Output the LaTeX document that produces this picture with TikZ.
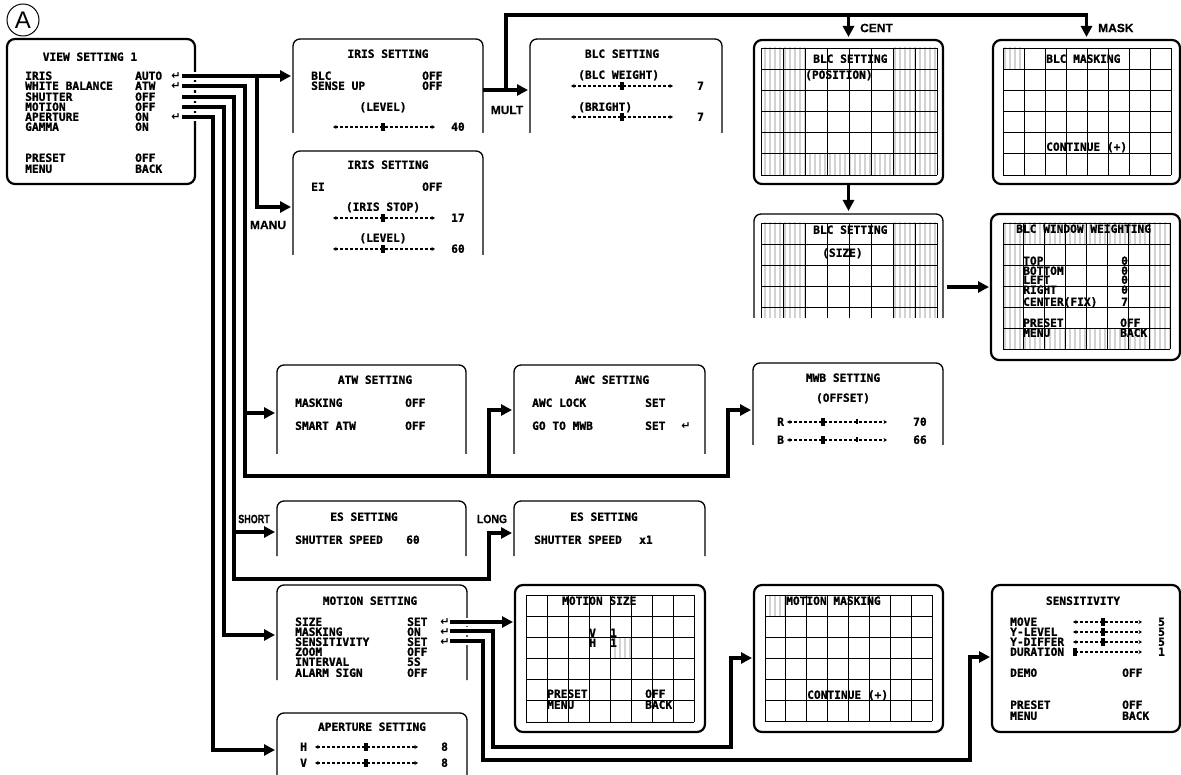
\documentclass[tikz,border=0pt]{standalone}
\usepackage{fontspec}
\usepackage{xcolor}
\usepackage{tikz}
\usetikzlibrary{arrows.meta,positioning,patterns.meta,calc}
\setmainfont{Liberation Sans}
\newfontfamily\osdfamily{DejaVu Sans Mono}[BoldFeatures={FakeBold=1.2}]
\newfontfamily\tagfamily{Liberation Sans}[BoldFeatures={FakeBold=0.4}]
\newfontfamily\symfamily{DejaVu Sans}
\definecolor{stripegray}{RGB}{210,210,210}

% slider: from, to, y, thumb
\newcommand{\osdslider}[4]{%
  \draw[sliderline] (#1,#3) -- (#2,#3);
  \fill (#4-2.2,#3-4) rectangle (#4+2.2,#3+4);}
% open screen outline (no bottom edge)
\newcommand{\openpanel}[1]{%
  \draw[panelline] (#1.south west) -- (#1.north west) -- (#1.north east) -- (#1.south east);}
% 8 x rows grid: x0, y0, cell width, cell height, rows
\newcommand{\osdgrid}[5]{%
  \foreach \i in {0,...,8} \draw[gridline] ({#1+\i*#3},#2) -- ++(0,{#5*#4});
  \foreach \j in {0,...,#5} \draw[gridline] (#1,{#2+\j*#4}) -- ++({8*#3},0);}

\begin{document}
\begin{tikzpicture}[x=1pt,y=-1pt,
    osd/.style={font=\fontsize{11.2}{12}\osdfamily\bfseries\selectfont,
                inner sep=0pt,text height=7.6pt,text depth=0pt},
    ent/.style={font=\fontsize{11}{11}\symfamily\bfseries\selectfont,inner sep=0pt},
    tag/.style={font=\fontsize{12}{12}\tagfamily\bfseries\selectfont,inner sep=0pt},
    panel/.style={inner sep=0pt,outer sep=0pt},
    panelline/.style={line width=1.3pt,rounded corners=7pt},
    screen/.style={draw,line width=2.2pt,rounded corners=8pt,inner sep=0pt,outer sep=0pt},
    gridline/.style={line width=0.9pt},
    stripes/.style={pattern={Lines[angle=90,distance=5pt,line width=2.4pt]},
                    pattern color=stripegray},
    link/.style={line width=3.8pt,-{Triangle[length=11pt,width=11pt]},shorten >=2pt,
                 preaction={draw=white,line width=8.5pt,-,shorten >=12pt}},
    branch/.style={line width=3.8pt,-{Triangle[length=11pt,width=11pt]},shorten >=2pt},
    sliderline/.style={line width=1.2pt,dash pattern=on 3.2pt off 1.8pt,
                       {Stealth[length=3.5pt,width=4pt]}-{Stealth[length=3.5pt,width=4pt]}}]
  \useasboundingbox (0,0) rectangle (1181,775);

  % main menu
  \node[draw,circle,line width=1pt,minimum size=32pt,inner sep=0pt,
        font=\fontsize{24}{24}\selectfont] (markA) at (23,20) {A};
  \node[screen,minimum width=188,minimum height=145] (view) at (101,111.5) {};
  \node[osd] (viewT) at (90,57) {VIEW SETTING 1};
  \foreach \lab/\val/\yy [count=\k] in {IRIS/AUTO/76,WHITE BALANCE/ATW/86,
      SHUTTER/OFF/97,MOTION/OFF/107,APERTURE/ON/117,GAMMA/ON/127,
      PRESET/OFF/158,MENU/BACK/169}{
    \node[osd,anchor=west] (viewL\k) at (25,\yy) {\lab};
    \node[osd,anchor=west] (viewV\k) at (135,\yy) {\val};}
  \foreach \yy [count=\k] in {76,86,117} \node[ent] (viewE\k) at (176,\yy) {↵};

  % iris
  \node[panel,minimum width=190,minimum height=94] (iris1) at (388,86) {};
  \openpanel{iris1}
  \node[osd] (iris1T) at (388,54) {IRIS SETTING};
  \node[osd,anchor=west] (iris1a) at (311,76) {BLC};
  \node[osd,anchor=west] (iris1b) at (422,76) {OFF};
  \node[osd,anchor=west] (iris1c) at (311,86) {SENSE UP};
  \node[osd,anchor=west] (iris1d) at (422,86) {OFF};
  \node[osd] (iris1e) at (383,107) {(LEVEL)};
  \osdslider{333}{435}{127}{383}
  \node[osd,anchor=west] (iris1v) at (451,127) {40};

  \node[panel,minimum width=190,minimum height=104] (iris2) at (388,203) {};
  \openpanel{iris2}
  \node[osd] (iris2T) at (388,165) {IRIS SETTING};
  \node[osd,anchor=west] (iris2a) at (311,187) {EI};
  \node[osd,anchor=west] (iris2b) at (422,187) {OFF};
  \node[osd] (iris2c) at (383,207) {(IRIS STOP)};
  \osdslider{333}{435}{218}{383}
  \node[osd,anchor=west] (iris2v) at (451,218) {17};
  \node[osd] (iris2d) at (383,238) {(LEVEL)};
  \osdslider{333}{435}{249}{383}
  \node[osd,anchor=west] (iris2w) at (451,249) {60};

  % blc
  \node[panel,minimum width=192,minimum height=94] (blcset) at (626,86) {};
  \openpanel{blcset}
  \node[osd] (blcsetT) at (622,54) {BLC SETTING};
  \node[osd,anchor=west] (blcseta) at (578,75) {(BLC WEIGHT)};
  \osdslider{571}{673}{86}{622}
  \node[osd,anchor=west] (blcsetv) at (697,86) {7};
  \node[osd,anchor=west] (blcsetb) at (578,107) {(BRIGHT)};
  \osdslider{571}{673}{117}{622}
  \node[osd,anchor=west] (blcsetw) at (697,117) {7};

  \node[screen,minimum width=189,minimum height=144] (blcpos) at (848.5,112) {};
  \path[stripes] (761,48) rectangle (805,175);
  \path[stripes] (893,48) rectangle (937,175);
  \path[stripes] (805,153.8) rectangle (893,175);
  \osdgrid{761}{48}{22}{21.17}{6}
  \node[osd,anchor=west] (blcposT) at (813,59) {BLC SETTING};
  \node[osd,anchor=west] (blcposa) at (805,75) {(POSITION)};

  \node[screen,minimum width=187,minimum height=144] (blcmask) at (1086.5,112) {};
  \path[stripes] (1003,48) rectangle ++(21,21.17);
  \osdgrid{1003}{48}{21}{21.17}{6}
  \node[osd,anchor=west] (blcmaskT) at (1046,59) {BLC MASKING};
  \node[osd,anchor=west] (blcmaska) at (1046,147) {CONTINUE (+)};

  \node[panel,minimum width=189,minimum height=104] (blcsize) at (848.5,266) {};
  \path[stripes] (761,223) rectangle (805,318);
  \path[stripes] (893,223) rectangle (937,318);
  \foreach \i in {0,...,8} \draw[gridline] ({761+\i*22},223) -- (761+\i*22,318);
  \foreach \j in {0,...,4} \draw[gridline] (761,{223+\j*21.17}) -- ++(176,0);
  \openpanel{blcsize}
  \node[osd,anchor=west] (blcsizeT) at (813,230) {BLC SETTING};
  \node[osd,anchor=west] (blcsizea) at (822,253) {(SIZE)};

  \node[screen,minimum width=189,minimum height=146] (blcwin) at (1085.5,287) {};
  \path[stripes] (1003,223) rectangle (1170,349);
  \fill[white] (1023.9,244) rectangle (1149.3,328);
  \osdgrid{1003}{223}{20.9}{21}{6}
  \node[osd,anchor=west] (blcwinT) at (1016,229) {BLC WINDOW WEIGHTING};
  \foreach \lab/\val/\yy [count=\k] in {TOP/0/261,BOTTOM/0/271,LEFT/0/280,
      RIGHT/0/290,CENTER(FIX)/7/302}{
    \node[osd,anchor=west] (blcwinL\k) at (1023,\yy) {\lab};
    \node[osd,anchor=west] (blcwinV\k) at (1121,\yy) {\val};}
  \node[osd,anchor=west] (blcwinP) at (1023,323) {PRESET};
  \node[osd,anchor=west] (blcwinQ) at (1120,323) {OFF};
  \node[osd,anchor=west] (blcwinM) at (1023,333) {MENU};
  \node[osd,anchor=west] (blcwinN) at (1120,333) {BACK};

  % white balance
  \node[panel,minimum width=189,minimum height=89] (atw) at (371.5,409.5) {};
  \openpanel{atw}
  \node[osd] (atwT) at (375,380) {ATW SETTING};
  \node[osd,anchor=west] (atwa) at (295,403) {MASKING};
  \node[osd,anchor=west] (atwb) at (405,403) {OFF};
  \node[osd,anchor=west] (atwc) at (295,426) {SMART ATW};
  \node[osd,anchor=west] (atwd) at (405,426) {OFF};

  \node[panel,minimum width=191,minimum height=89] (awc) at (609.5,409.5) {};
  \openpanel{awc}
  \node[osd] (awcT) at (612,380) {AWC SETTING};
  \node[osd,anchor=west] (awca) at (532,403) {AWC LOCK};
  \node[osd,anchor=west] (awcb) at (645,403) {SET};
  \node[osd,anchor=west] (awcc) at (532,426) {GO TO MWB};
  \node[osd,anchor=west] (awcd) at (645,426) {SET};
  \node[ent] (awcE) at (686,426) {↵};

  \node[panel,minimum width=190,minimum height=82] (mwb) at (848,404) {};
  \openpanel{mwb}
  \node[osd] (mwbT) at (843,378) {MWB SETTING};
  \node[osd] (mwba) at (843,398) {(OFFSET)};
  \foreach \lab/\val/\yy [count=\k] in {R/70/422,B/66/440}{
    \node[osd,anchor=west] (mwbL\k) at (777,\yy) {\lab};
    \osdslider{787}{887}{\yy}{823}
    \draw[line width=1.2pt] (857,\yy-2.5) -- (857,\yy+2.5);
    \node[osd,anchor=west] (mwbV\k) at (913,\yy) {\val};}

  % shutter
  \node[panel,minimum width=189,minimum height=55] (es1) at (371.5,528.5) {};
  \openpanel{es1}
  \node[osd] (es1T) at (364,517) {ES SETTING};
  \node[osd,anchor=west] (es1a) at (295,540) {SHUTTER SPEED};
  \node[osd,anchor=west] (es1b) at (406,540) {60};

  \node[panel,minimum width=191,minimum height=55] (es2) at (609.5,528.5) {};
  \openpanel{es2}
  \node[osd] (es2T) at (604,517) {ES SETTING};
  \node[osd,anchor=west] (es2a) at (534,540) {SHUTTER SPEED};
  \node[osd,anchor=west] (es2b) at (639,540) {x1};

  % motion
  \node[panel,minimum width=190,minimum height=95] (motset) at (372,632.5) {};
  \openpanel{motset}
  \node[osd] (motsetT) at (370,601) {MOTION SETTING};
  \foreach \lab/\val/\yy [count=\k] in {SIZE/SET/622,MASKING/ON/632,
      SENSITIVITY/SET/642,ZOOM/OFF/652,INTERVAL/5S/662,ALARM SIGN/OFF/673}{
    \node[osd,anchor=west] (motsetL\k) at (295,\yy) {\lab};
    \node[osd,anchor=west] (motsetV\k) at (407,\yy) {\val};}
  \foreach \yy [count=\k] in {622,632,642} \node[ent] (motsetE\k) at (445,\yy) {↵};

  \node[panel,minimum width=190,minimum height=64] (aper) at (372,745) {};
  \openpanel{aper}
  \node[osd] (aperT) at (372,727) {APERTURE SETTING};
  \foreach \lab/\yy [count=\k] in {H/747,V/763}{
    \node[osd,anchor=west] (aperL\k) at (300,\yy) {\lab};
    \osdslider{315}{418}{\yy}{366}
    \node[osd,anchor=west] (aperV\k) at (441,\yy) {8};}

  \node[screen,minimum width=190,minimum height=147] (motsize) at (610,658.5) {};
  \path[stripes] (610,637.3) rectangle ++(21,21.17);
  \osdgrid{526}{595}{21}{21.17}{6}
  \node[osd,anchor=west] (motsizeT) at (562,601) {MOTION SIZE};
  \node[osd,anchor=west] (motsizea) at (589,633) {V};
  \node[osd,anchor=west] (motsizeb) at (610,633) {1};
  \node[osd,anchor=west] (motsizec) at (589,643) {H};
  \node[osd,anchor=west] (motsized) at (610,643) {1};
  \node[osd,anchor=west] (motsizeP) at (547,694) {PRESET};
  \node[osd,anchor=west] (motsizeQ) at (645,694) {OFF};
  \node[osd,anchor=west] (motsizeM) at (547,705) {MENU};
  \node[osd,anchor=west] (motsizeN) at (645,705) {BACK};

  \node[screen,minimum width=189,minimum height=147] (motmask) at (848.5,658.5) {};
  \path[stripes] (765,595) rectangle ++(20.9,21);
  \osdgrid{765}{595}{20.9}{21}{6}
  \node[osd,anchor=west] (motmaskT) at (786,601) {MOTION MASKING};
  \node[osd,anchor=west] (motmaska) at (807,695) {CONTINUE (+)};

  \node[screen,minimum width=188,minimum height=147] (sens) at (1086,658.5) {};
  \node[osd] (sensT) at (1083,601) {SENSITIVITY};
  \foreach \lab/\val/\th/\yy [count=\k] in {MOVE/5/1103/622,Y-LEVEL/5/1103/632,
      Y-DIFFER/5/1103/642,DURATION/1/1075/652}{
    \node[osd,anchor=west] (sensL\k) at (1010,\yy) {\lab};
    \osdslider{1073}{1142}{\yy}{\th}
    \node[osd,anchor=west] (sensV\k) at (1158,\yy) {\val};}
  \foreach \lab/\val/\yy [count=\k] in {DEMO/OFF/673,PRESET/OFF/705,MENU/BACK/716}{
    \node[osd,anchor=west] (sensP\k) at (1010,\yy) {\lab};
    \node[osd,anchor=west] (sensQ\k) at (1122,\yy) {\val};}

  % branch labels
  \node[tag] (manu) at (268,225) {MANU};
  \node[tag] (mult) at (507,110) {MULT};
  \node[tag,anchor=west] (cent) at (860,28) {CENT};
  \node[tag,anchor=west] (mask) at (1098,28) {MASK};
  \node[tag,xscale=0.75] (short) at (254,519) {SHORT};
  \node[tag,xscale=0.87] (long) at (492,519) {LONG};

  % connectors
  \coordinate (vIris) at (182,76);
  \coordinate (vWb) at (182,86);   \coordinate (jWb) at (245,86);
  \coordinate (kWb) at (245,476);  \coordinate (kMwb) at (728,410);
  \coordinate (vShut) at (182,97); \coordinate (jShut) at (234,97);
  \coordinate (kShut) at (234,579); \coordinate (kLong) at (489,533);
  \coordinate (vMot) at (182,107); \coordinate (jMot) at (224,107);
  \coordinate (kMot) at (224,635);
  \coordinate (vAper) at (182,117); \coordinate (jAper) at (213,117);
  \coordinate (kAper) at (213,750);
  \coordinate (mSize) at (450,622);
  \coordinate (mMask) at (450,631); \coordinate (jMask) at (493,631);
  \coordinate (kMask) at (493,747); \coordinate (lMask) at (731,658);
  \coordinate (mSens) at (450,641); \coordinate (jSens) at (483,641);
  \coordinate (kSens) at (483,760); \coordinate (lSens) at (970,657);

  \draw[link] (vIris) -- (vIris -| iris1.west);
  \draw[link] (vWb) -- (jWb) -- (kWb) -| (kMwb) -- (kMwb -| mwb.west);
  \draw[link] (vShut) -- (jShut) -- (kShut) -| (kLong) -- (kLong -| es2.west);
  \draw[link] (vMot) -- (jMot) -- (kMot) -- (kMot -| motset.west);
  \draw[link] (vAper) -- (jAper) -- (kAper) -- (kAper -| aper.west);
  \draw[link] (mSize) -- (mSize -| motsize.west);
  \draw[link] (mMask) -- (jMask) -- (kMask) -| (lMask) -- (lMask -| motmask.west);
  \draw[link] (mSens) -- (jSens) -- (kSens) -| (lSens) -- (lSens -| sens.west);

  \coordinate (jManu) at (257,76);  \coordinate (kManu) at (257,207);
  \coordinate (kMult) at (483,90);  \coordinate (jMult) at (506,90);
  \coordinate (kTop) at (506,15);   \coordinate (kWin) at (947,287);
  \coordinate (kAtw) at (245,413);  \coordinate (jAwc) at (489,476);
  \coordinate (kAwc) at (489,410);  \coordinate (kShort) at (234,532);

  \draw[branch] (jManu) -- (kManu) -- (kManu -| iris2.west);
  \draw[branch] (kMult) -- (kMult -| blcset.west);
  \draw[branch,shorten >=3pt] (jMult) -- (kTop) -| (blcmask.north);
  \draw[branch,shorten >=3pt] (kTop -| blcpos.north) -- (blcpos.north);
  \draw[branch,shorten >=3pt] (blcpos.south) -- (blcsize.north);
  \draw[branch] (kWin) -- (kWin -| blcwin.west);
  \draw[branch] (kAtw) -- (kAtw -| atw.west);
  \draw[branch] (jAwc) -- (kAwc) -- (kAwc -| awc.west);
  \draw[branch] (kShort) -- (kShort -| es1.west);
\end{tikzpicture}
\end{document}
